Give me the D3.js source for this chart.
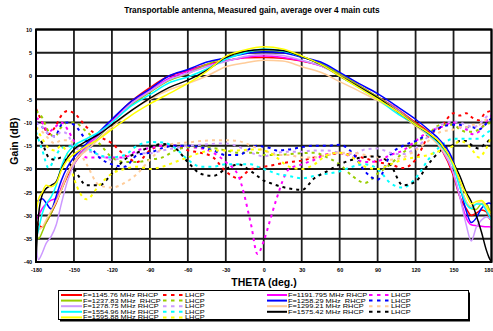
<!DOCTYPE html>
<html><head><meta charset="utf-8">
<script src="https://cdn.jsdelivr.net/npm/d3@7"></script>
<style>
html,body{margin:0;padding:0;background:#fff;}
svg{display:block;font-family:"Liberation Sans",Arial,sans-serif;}
</style></head>
<body>
<svg id="chart" width="493" height="331"></svg>
<script>
// ---- data ----
const xTicks = [-180,-150,-120,-90,-60,-30,0,30,60,90,120,150,180];
const yTicks = [-40,-35,-30,-25,-20,-15,-10,-5,0,5,10];
const freqs = ["F=1145.76 MHz RHCP","F=1237.83 MHz  RHCP","F=1278.75 MHz RHCP","F=1554.96 MHz RHCP","F=1595.88 MHz RHCP",
               "F=1191.795 MHz RHCP","F=1258.29 MHz  RHCP","F=1299.21 MHz RHCP","F=1575.42 MHz RHCP"];
const THETA_R = [-180,-178,-175,-172,-168,-164,-160,-155,-150,-140,-130,-120,-105,-90,-75,-60,-45,-30,-15,0,15,30,45,60,75,90,105,120,130,140,150,155,160,164,168,172,176,178,180];
const THETA_L = [-180,-175,-170,-165,-160,-155,-150,-140,-130,-120,-110,-100,-90,-80,-70,-60,-50,-40,-30,-20,-10,-5,0,5,10,20,30,40,50,60,70,80,90,100,110,120,130,140,150,155,160,165,170,175,180];

const R_1145 = [-31,-32,-32.5,-31.5,-29.5,-27.3,-24.5,-21.5,-19,-15.5,-12.5,-9.5,-5.5,-2.5,0,1.2,2.5,3.3,3.9,4.0,3.8,3.2,2.2,0.3,-2,-4.5,-7,-10,-12,-15.5,-21.5,-26,-28.5,-30,-29.5,-28.8,-29.2,-30.5,-31];
const R_1237 = [-33,-35,-33.5,-31.5,-29.5,-27,-24.5,-21,-18.5,-15.5,-13,-10,-6.3,-3.5,-1,0.5,2.5,4,5,5.4,5.2,4.2,2.7,0.5,-2,-4.5,-7.2,-10.3,-12.3,-15,-19.5,-23.5,-27,-28.5,-28.7,-27.5,-27.5,-28.5,-30];
const R_1278 = [-36.5,-39.5,-38,-36,-34.5,-32,-27.5,-22.5,-19,-15.5,-12.8,-10,-6,-3.3,-0.8,0.6,2,3.1,4.2,4.7,4.4,3.4,2.2,0,-2.3,-4.8,-7.3,-10.5,-12.5,-15.5,-21,-26,-32,-35.5,-32.5,-31,-30.3,-30.5,-31];
const R_1554 = [-35,-33,-29.5,-27.5,-26,-23.5,-19.5,-16.5,-15,-13.5,-12,-10,-6.5,-4,-1.5,-0.2,1.5,3.6,5,5.8,5.4,4.2,2.5,0,-2.5,-5,-8,-10.5,-12.5,-15,-19.5,-24,-27.5,-28.5,-27.5,-27.5,-29,-30,-31];
const R_1595 = [-29.5,-26.5,-25,-23.5,-23.8,-23,-20.3,-18,-16.8,-15,-13.5,-11.5,-8.5,-6,-3.8,-1.6,1,4.2,5.6,6.3,5.8,4.3,2.5,0,-2.5,-5,-7.5,-10.5,-12.2,-14.5,-19,-22.5,-25.5,-27.5,-27,-26.8,-28,-29,-29.5];
const R_1191 = [-31,-30,-28.5,-27.5,-26.7,-26.3,-24,-20.8,-18.5,-15,-12.5,-9.7,-6,-3,-0.5,1,2.3,3.2,4,4.3,4,3.3,2.2,0.3,-2,-4.5,-7,-10.3,-12.3,-15.5,-21,-26,-30.5,-32,-32.2,-32.3,-32.4,-32.4,-32.5];
const R_1258 = [-27,-26.8,-26.4,-27.3,-28.6,-25.8,-22.5,-19.5,-17.5,-14.5,-12,-9.3,-5.5,-2.8,0,1.4,3,3.9,4.8,5.2,5,4,3,0.8,-1.6,-3.8,-6.5,-9.3,-11.5,-14,-18.5,-23.5,-29,-31.5,-30.5,-28.5,-27.5,-27.3,-27.5];
const R_1299 = [-32,-33,-32.5,-31,-29,-27,-24.5,-21,-18.5,-16,-13.5,-11,-7.5,-5,-3,-1.6,0,2,2.8,3.4,3.2,2,0.8,-1.2,-3.2,-5.3,-7.8,-10.8,-12.8,-15.5,-19.5,-23.5,-27,-28,-27.5,-27,-28.5,-29.5,-30];
const R_1575 = [-39.8,-30,-25.5,-24.2,-23.5,-22.7,-20,-17.5,-15.8,-14,-12.5,-10.5,-7.5,-4.8,-2.5,-0.9,1.2,4,5.3,5.7,5.5,4.2,2.5,0,-2.3,-4.7,-7.5,-10.5,-12.3,-14.7,-18.8,-21.5,-25,-27,-30,-33.5,-37.5,-39,-40];

const L_1145 = [-7,-10,-12.5,-11,-8.5,-7.5,-8,-11,-13,-14.5,-17,-18.5,-16,-15,-15,-16,-16.5,-17.5,-20.5,-22,-20,-19.8,-19.5,-19.3,-19,-18.5,-18.2,-17.5,-17,-16.6,-17,-17.7,-18.5,-19,-19.8,-18,-13,-11,-8,-8.5,-8,-9,-9.5,-8,-7.5];
const L_1237 = [-7.5,-9,-12,-13,-11,-10,-10,-12,-14.5,-17.5,-18.5,-18.5,-18,-17.5,-16,-15.3,-15.2,-15.5,-16,-16.5,-16.5,-16.5,-17,-17,-17,-16.8,-16.6,-16.5,-17.5,-19,-21.5,-23,-21,-19,-16.5,-14.5,-12.5,-10.5,-10.5,-11.5,-12,-12,-11.5,-10.5,-10];
const L_1278 = [-10,-11,-12.5,-13,-12,-12.5,-15.5,-16,-17,-18,-17.5,-16.6,-16.6,-16,-15.5,-15,-14.8,-14.6,-14.5,-15.2,-16.5,-17,-17.3,-17,-16.5,-16.3,-16.3,-16,-16,-16.5,-16.8,-15.8,-15.6,-16.5,-16.8,-15.5,-13,-10.5,-9.8,-10,-10.5,-11,-10.5,-9,-8];
const L_1554 = [-12,-16,-19.8,-17.5,-15.5,-15.2,-15,-15.5,-17,-17.5,-17,-15,-14.2,-14.3,-15.5,-18,-19.5,-19.5,-19,-19,-19,-19.5,-20,-20.5,-21,-21.5,-22,-21.5,-21,-20.5,-19.5,-19,-20,-23,-24,-22,-18,-15,-13.5,-13.5,-13.5,-13.5,-13.5,-12.5,-11.5];
const L_1595 = [-11,-13.5,-15.5,-16,-15,-17,-22,-26.5,-23.5,-21,-20,-19.5,-20,-19.5,-18.5,-17.5,-16.5,-16,-16,-16,-15.8,-15.8,-16,-16.5,-17.5,-19.5,-20,-19,-17,-16.5,-17.5,-19.5,-20,-19,-18,-17.5,-17,-16,-15,-14,-14.5,-16,-17.5,-16,-13];
const L_1191 = [-9,-10,-12,-11,-10,-11.5,-14,-17.5,-17.5,-17.5,-17.5,-16,-15.5,-15,-15,-15.3,-15.5,-16.5,-18.5,-21.5,-32,-38.3,-35.5,-31,-26.5,-20,-19,-18,-16.8,-16.5,-17.5,-18.5,-18.3,-17,-16,-14,-12,-11,-10,-11,-11.5,-12.5,-12,-10,-8.5];
const L_1258 = [-10,-11,-12.5,-13,-10.5,-10,-10.5,-14,-17.5,-19,-19.5,-17,-16.5,-15.5,-15,-15,-15.3,-16,-17,-17,-15.5,-15,-15.2,-15.5,-16,-15.8,-15.3,-15,-15,-14.8,-16.5,-20.5,-22.3,-17,-15,-14,-12.5,-11,-10.5,-10.5,-11,-11,-11.5,-10.5,-9];
const L_1299 = [-11,-12,-13.5,-14.5,-13.8,-13.8,-14.5,-19,-23.5,-24,-23,-21,-18,-15.5,-14.5,-14.3,-14,-13.8,-13.8,-14,-15,-15.5,-16,-16.5,-17,-17,-17.5,-17.5,-17,-16.5,-16.5,-17,-17.5,-18,-17.5,-16,-14,-12,-11.5,-11,-11,-10.5,-10.5,-9.5,-9];
const L_1575 = [-13,-14.5,-17.5,-18,-17.5,-18.5,-20,-23.5,-23.5,-21,-18,-16.5,-15.3,-14.6,-15.5,-18.5,-21,-21.5,-20,-19,-20.5,-21.5,-22.5,-23,-23.5,-24.2,-24.5,-22,-20.5,-19,-18,-17.4,-17.3,-19,-23.5,-22.7,-19,-16,-14.8,-14,-14,-15,-15.6,-14.5,-13.5];

// ---- styles ----
const colors = ["#ff0000","#99cc00","#cc99ff","#00ffff","#ffff00","#ff00ff","#0000ff","#ffcc99","#000000"];
const rhcp = [R_1145,R_1237,R_1278,R_1554,R_1595,R_1191,R_1258,R_1299,R_1575];
const lhcp = [L_1145,L_1237,L_1278,L_1554,L_1595,L_1191,L_1258,L_1299,L_1575];
const drawOrder = [0,5,1,6,2,7,3,8,4];

const svg = d3.select("#chart");
const X0 = 36, X1 = 491.5, Y0 = 29.5, Y1 = 262;
const x = d3.scaleLinear().domain([-180,180]).range([X0,X1]);
const y = d3.scaleLinear().domain([-40,10]).range([Y1,Y0]);

// title
svg.append("text").attr("x",252).attr("y",13).attr("text-anchor","middle")
  .style("font-size","8.3px").style("font-weight","bold").text("Transportable antenna, Measured gain, average over 4 main cuts");

// grid
const grid = svg.append("g");
grid.selectAll(".gx").data(xTicks).join("line")
  .attr("x1",d=>x(d)).attr("x2",d=>x(d)).attr("y1",Y0).attr("y2",Y1)
  .attr("stroke","#1e1e1e").attr("stroke-width",1.8);
grid.selectAll(".gy").data(yTicks).join("line")
  .attr("x1",X0).attr("x2",X1).attr("y1",d=>y(d)).attr("y2",d=>y(d))
  .attr("stroke","#1e1e1e").attr("stroke-width",1.8);

// axes labels via d3 axes
const xAxis = d3.axisBottom(x).tickValues(xTicks).tickSize(0).tickPadding(6).tickFormat(d=>String(d));
const gx = svg.append("g").attr("transform",`translate(0,${Y1})`).call(xAxis);
gx.select(".domain").remove();
gx.selectAll("text").style("font-size","5.5px").style("font-weight","bold").attr("fill","#000")
  .style("font-family","'Liberation Sans',Arial,sans-serif");
// keep the last label inside the window
gx.selectAll("text").filter(d=>d===180).attr("text-anchor","end").attr("dx","1.5");
const yAxis = d3.axisLeft(y).tickValues(yTicks).tickSize(0).tickPadding(4).tickFormat(d=>String(d));
const gy = svg.append("g").attr("transform",`translate(${X0},0)`).call(yAxis);
gy.select(".domain").remove();
gy.selectAll("text").style("font-size","5.5px").style("font-weight","bold").attr("fill","#000")
  .style("font-family","'Liberation Sans',Arial,sans-serif");

svg.append("text").attr("x",264).attr("y",286).attr("text-anchor","middle")
  .style("font-size","10.5px").style("font-weight","bold").text("THETA (deg.)");
svg.append("text").attr("transform","translate(18,141) rotate(-90)").attr("text-anchor","middle")
  .style("font-size","10.5px").style("font-weight","bold").text("Gain (dB)");

// clip
svg.append("clipPath").attr("id","clip").append("rect")
  .attr("x",X0).attr("y",Y0).attr("width",X1-X0).attr("height",Y1-Y0);
const plot = svg.append("g").attr("clip-path","url(#clip)");
const line = (th)=>d3.line().x((d,i)=>x(th[i])).y(d=>y(d)).curve(d3.curveMonotoneX);

drawOrder.forEach(i=>{
  plot.append("path").attr("d",line(THETA_L)(lhcp[i])).attr("fill","none")
    .attr("stroke",colors[i]).attr("stroke-width",2).attr("stroke-dasharray","3,4");
});
drawOrder.forEach(i=>{
  plot.append("path").attr("d",line(THETA_R)(rhcp[i])).attr("fill","none")
    .attr("stroke",colors[i]).attr("stroke-width",1.5);
});

// border
svg.append("rect").attr("x",X0).attr("y",Y0).attr("width",X1-X0).attr("height",Y1-Y0)
  .attr("fill","none").attr("stroke","#000").attr("stroke-width",2);

// legend
const lg = svg.append("g");
lg.append("rect").attr("x",60).attr("y",292.5).attr("width",410).attr("height",29).attr("fill","#000");
lg.append("rect").attr("x",58.5).attr("y",290.5).attr("width",410).attr("height",29).attr("fill","#fff").attr("stroke","#000").attr("stroke-width",1);
const cols = [
  {idx:[0,1,2,3,4], s0:61, s1:82, t:83, d0:163, d1:184, dt:185},
  {idx:[5,6,7,8], s0:267, s1:287, t:288, d0:369, d1:390, dt:391}
];
const FS = 5.6, STRETCH = 1.32;
cols.forEach(c=>{
  c.idx.forEach((i,r)=>{
    const yy = 295 + r*5.6;
    lg.append("line").attr("x1",c.s0).attr("x2",c.s1).attr("y1",yy).attr("y2",yy).attr("stroke",colors[i]).attr("stroke-width",2);
    const t = lg.append("text").attr("x",c.t).attr("y",yy+2).style("font-size",FS+"px").style("white-space","pre").attr("xml:space","preserve").text(freqs[i]);
    const w = t.node().getComputedTextLength();
    t.attr("textLength",w*STRETCH).attr("lengthAdjust","spacingAndGlyphs");
    lg.append("line").attr("x1",c.d0).attr("x2",c.d1).attr("y1",yy).attr("y2",yy).attr("stroke",colors[i]).attr("stroke-width",2).attr("stroke-dasharray","3.5,4.5");
    const t2 = lg.append("text").attr("x",c.dt).attr("y",yy+2).style("font-size",FS+"px").text("LHCP");
    const w2 = t2.node().getComputedTextLength();
    t2.attr("textLength",w2*STRETCH).attr("lengthAdjust","spacingAndGlyphs");
  });
});
</script>
</body></html>
